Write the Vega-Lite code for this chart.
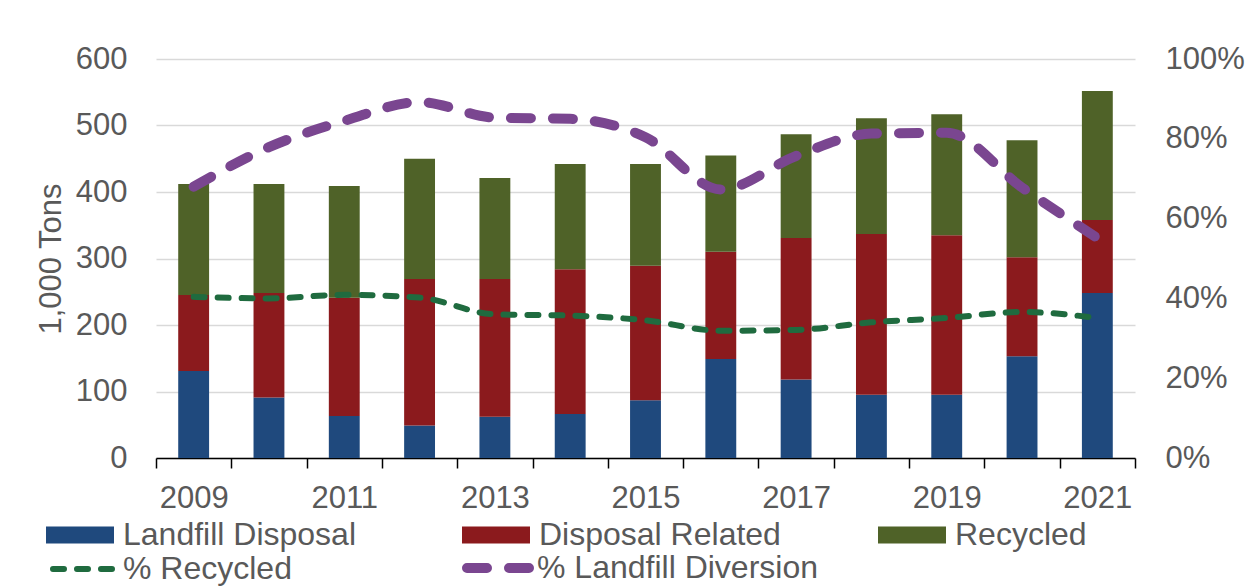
{
  "$schema": "https://vega.github.io/schema/vega-lite/v6.json",
  "width": 979,
  "height": 399,
  "autosize": {"type": "none"},
  "padding": {"left": 156, "top": 59, "right": 115, "bottom": 128},
  "background": "white",
  "config": {
    "view": {"stroke": null},
    "font": "Liberation Sans",
    "axis": {"labelFont": "Liberation Sans", "labelFontSize": 31, "labelColor": "#595959", "titleFont": "Liberation Sans", "titleFontSize": 31, "titleColor": "#595959", "titleFontWeight": "normal"},
    "legend": {"labelFont": "Liberation Sans", "labelFontSize": 32, "labelColor": "#595959", "padding": 0}
  },
  "datasets": {
    "bars": [
      {"year": 2009, "type": "Landfill Disposal", "value": 131}, {"year": 2009, "type": "Disposal Related", "value": 114}, {"year": 2009, "type": "Recycled", "value": 167},
      {"year": 2010, "type": "Landfill Disposal", "value": 91}, {"year": 2010, "type": "Disposal Related", "value": 157}, {"year": 2010, "type": "Recycled", "value": 164},
      {"year": 2011, "type": "Landfill Disposal", "value": 63}, {"year": 2011, "type": "Disposal Related", "value": 178}, {"year": 2011, "type": "Recycled", "value": 168},
      {"year": 2012, "type": "Landfill Disposal", "value": 49}, {"year": 2012, "type": "Disposal Related", "value": 220}, {"year": 2012, "type": "Recycled", "value": 181},
      {"year": 2013, "type": "Landfill Disposal", "value": 62}, {"year": 2013, "type": "Disposal Related", "value": 207}, {"year": 2013, "type": "Recycled", "value": 152},
      {"year": 2014, "type": "Landfill Disposal", "value": 66}, {"year": 2014, "type": "Disposal Related", "value": 218}, {"year": 2014, "type": "Recycled", "value": 158},
      {"year": 2015, "type": "Landfill Disposal", "value": 87}, {"year": 2015, "type": "Disposal Related", "value": 202}, {"year": 2015, "type": "Recycled", "value": 153},
      {"year": 2016, "type": "Landfill Disposal", "value": 149}, {"year": 2016, "type": "Disposal Related", "value": 161}, {"year": 2016, "type": "Recycled", "value": 145},
      {"year": 2017, "type": "Landfill Disposal", "value": 118}, {"year": 2017, "type": "Disposal Related", "value": 213}, {"year": 2017, "type": "Recycled", "value": 156},
      {"year": 2018, "type": "Landfill Disposal", "value": 95}, {"year": 2018, "type": "Disposal Related", "value": 242}, {"year": 2018, "type": "Recycled", "value": 174},
      {"year": 2019, "type": "Landfill Disposal", "value": 95}, {"year": 2019, "type": "Disposal Related", "value": 240}, {"year": 2019, "type": "Recycled", "value": 182},
      {"year": 2020, "type": "Landfill Disposal", "value": 153}, {"year": 2020, "type": "Disposal Related", "value": 149}, {"year": 2020, "type": "Recycled", "value": 176},
      {"year": 2021, "type": "Landfill Disposal", "value": 248}, {"year": 2021, "type": "Disposal Related", "value": 110}, {"year": 2021, "type": "Recycled", "value": 194}
    ],
    "lines": [
      {"year": 2009, "measure": "% Recycled", "pct": 0.404}, {"year": 2010, "measure": "% Recycled", "pct": 0.400}, {"year": 2011, "measure": "% Recycled", "pct": 0.409},
      {"year": 2012, "measure": "% Recycled", "pct": 0.402}, {"year": 2013, "measure": "% Recycled", "pct": 0.360}, {"year": 2014, "measure": "% Recycled", "pct": 0.357},
      {"year": 2015, "measure": "% Recycled", "pct": 0.345}, {"year": 2016, "measure": "% Recycled", "pct": 0.319}, {"year": 2017, "measure": "% Recycled", "pct": 0.321},
      {"year": 2018, "measure": "% Recycled", "pct": 0.340}, {"year": 2019, "measure": "% Recycled", "pct": 0.351}, {"year": 2020, "measure": "% Recycled", "pct": 0.366},
      {"year": 2021, "measure": "% Recycled", "pct": 0.351},
      {"year": 2009, "measure": "% Landfill Diversion", "pct": 0.680}, {"year": 2010, "measure": "% Landfill Diversion", "pct": 0.779}, {"year": 2011, "measure": "% Landfill Diversion", "pct": 0.845},
      {"year": 2012, "measure": "% Landfill Diversion", "pct": 0.892}, {"year": 2013, "measure": "% Landfill Diversion", "pct": 0.853}, {"year": 2014, "measure": "% Landfill Diversion", "pct": 0.850},
      {"year": 2015, "measure": "% Landfill Diversion", "pct": 0.804}, {"year": 2016, "measure": "% Landfill Diversion", "pct": 0.673}, {"year": 2017, "measure": "% Landfill Diversion", "pct": 0.757},
      {"year": 2018, "measure": "% Landfill Diversion", "pct": 0.813}, {"year": 2019, "measure": "% Landfill Diversion", "pct": 0.815}, {"year": 2020, "measure": "% Landfill Diversion", "pct": 0.678},
      {"year": 2021, "measure": "% Landfill Diversion", "pct": 0.551}
    ]
  },
  "layer": [
    {
      "data": {"name": "bars"},
      "mark": {"type": "bar", "width": {"band": 0.41}},
      "encoding": {
        "x": {
          "field": "year", "type": "ordinal",
          "scale": {"paddingInner": 0, "paddingOuter": 0},
          "axis": {"title": null, "tickBand": "extent", "labelAngle": 0, "domainColor": "#000000", "domainWidth": 1.5, "tickColor": "#000000", "tickWidth": 1.5, "tickSize": 10, "labelPadding": 15, "labelOverlap": false, "labelExpr": "datum.value % 2 == 1 ? datum.label : ''", "grid": false}
        },
        "y": {
          "field": "value", "type": "quantitative", "stack": "zero",
          "scale": {"domain": [0, 600]},
          "axis": {"title": "1,000 Tons", "values": [0, 100, 200, 300, 400, 500, 600], "grid": true, "gridColor": "#D9D9D9", "gridWidth": 1.5, "domain": false, "ticks": false, "tickSize": 0, "labelPadding": 29, "titlePadding": 8}
        },
        "order": {"field": "year", "type": "quantitative"},
        "fill": {
          "field": "type", "type": "nominal",
          "sort": ["Landfill Disposal", "Disposal Related", "Recycled"],
          "scale": {"domain": ["Landfill Disposal", "Disposal Related", "Recycled"], "range": ["#1F497D", "#8B1A1D", "#4F6228"]},
          "legend": {"title": null, "orient": "none", "legendX": -110, "legendY": 442, "direction": "horizontal", "columns": 3, "symbolType": "M-1,-0.25H1V0.25H-1Z", "symbolSize": 4624, "symbolStrokeWidth": 0, "labelOffset": 9, "columnPadding": 97, "gridAlign": "all", "labelLimit": 400}
        }
      }
    },
    {
      "data": {"name": "lines"},
      "mark": {"type": "line", "interpolate": "monotone", "strokeCap": "round"},
      "encoding": {
        "x": {"field": "year", "type": "ordinal"},
        "y": {
          "field": "pct", "type": "quantitative",
          "scale": {"domain": [0, 1]},
          "axis": {"orient": "right", "title": null, "format": ".0%", "values": [0, 0.2, 0.4, 0.6, 0.8, 1], "grid": false, "domain": false, "ticks": false, "tickSize": 0, "labelPadding": 30}
        },
        "stroke": {
          "field": "measure", "type": "nominal",
          "scale": {"domain": ["% Recycled", "% Landfill Diversion"], "range": ["#1F6B3F", "#7A4690"]},
          "legend": {"title": null, "orient": "none", "legendX": -108, "legendY": 472, "direction": "horizontal", "columns": 2, "symbolType": "stroke", "symbolSize": 4096, "labelOffset": 1, "columnPadding": 42, "gridAlign": "all", "labelLimit": 400, "encode": {"symbols": {"update": {"strokeCap": {"value": "round"}}}}}
        },
        "strokeDash": {
          "field": "measure", "type": "nominal",
          "scale": {"domain": ["% Recycled", "% Landfill Diversion"], "range": [[11, 13], [20, 22]]}
        },
        "strokeWidth": {
          "field": "measure", "type": "nominal",
          "scale": {"domain": ["% Recycled", "% Landfill Diversion"], "range": [6, 10]}
        }
      }
    }
  ],
  "resolve": {"scale": {"y": "independent"}}
}
